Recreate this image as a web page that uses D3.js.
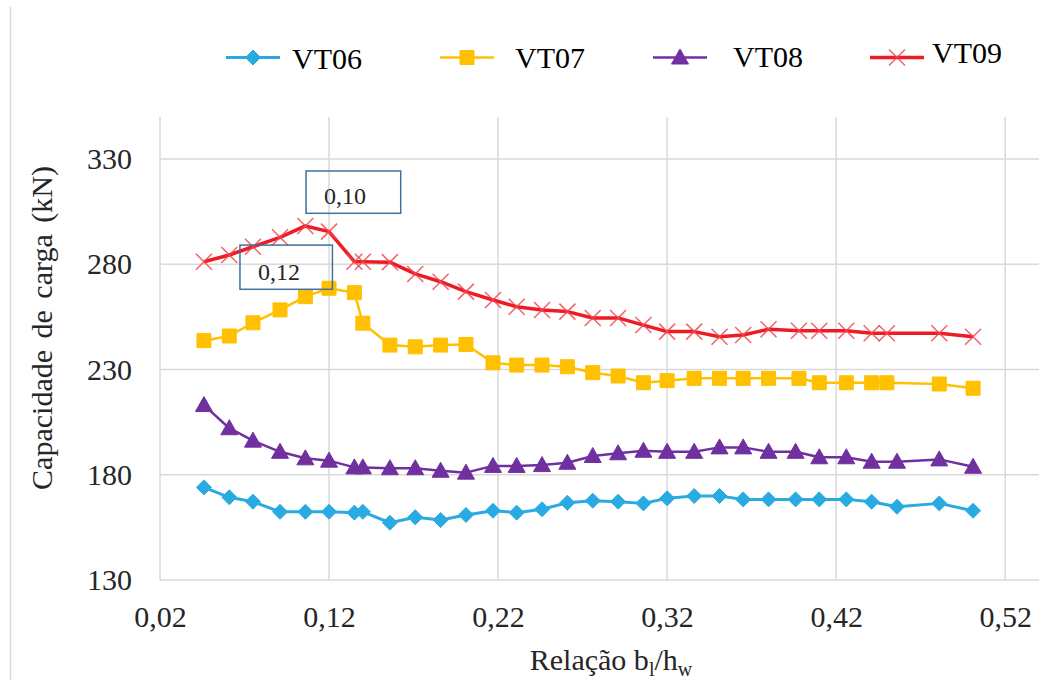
<!DOCTYPE html>
<html lang="pt">
<head>
<meta charset="utf-8">
<script src="https://cdn.jsdelivr.net/npm/d3@7"></script>
<style>
  body { margin: 0; background: #fff; }
  svg text { font-family: "Liberation Serif", serif; }
</style>
</head>
<body>
<div id="chart"></div>
<script>
// relação bl/hw (two slightly different sets of abscissas)
var ratioA = [0.046, 0.061, 0.075, 0.091, 0.106, 0.120, 0.135, 0.140, 0.156, 0.171, 0.186, 0.201, 0.217, 0.231, 0.246, 0.261,
              0.276, 0.291, 0.306, 0.320, 0.336, 0.351, 0.365, 0.380, 0.396, 0.410, 0.426, 0.441, 0.456, 0.481, 0.501];
var ratioB = [0.046, 0.061, 0.075, 0.091, 0.106, 0.120, 0.135, 0.140, 0.156, 0.171, 0.186, 0.201, 0.217, 0.231, 0.246, 0.261,
              0.276, 0.291, 0.306, 0.320, 0.336, 0.351, 0.365, 0.380, 0.398, 0.410, 0.426, 0.441, 0.450, 0.481, 0.501];

// capacidade de carga (kN)
var vt06 = [174.0, 169.3, 167.2, 162.4, 162.4, 162.4, 162.0, 162.4, 157.2, 159.8, 158.5, 160.9, 162.9, 162.0, 163.6, 166.7,
            167.7, 167.2, 166.4, 168.8, 169.9, 169.9, 168.3, 168.3, 168.3, 168.3, 168.3, 167.2, 164.8, 166.4, 162.9];
var vt07 = [243.7, 245.9, 252.2, 258.3, 264.6, 268.6, 266.5, 252.0, 241.6, 240.8, 241.6, 241.9, 233.2, 232.1, 232.1, 231.3,
            228.5, 226.9, 223.7, 224.7, 225.8, 225.8, 225.8, 225.8, 225.8, 223.7, 223.7, 223.7, 223.7, 223.1, 221.1];
var vt08 = [213.1, 202.1, 196.2, 190.9, 187.8, 186.7, 183.5, 183.5, 183.1, 183.1, 181.9, 181.0, 184.2, 184.2, 184.6, 185.7,
            188.9, 190.2, 191.4, 190.9, 190.9, 193.0, 193.0, 190.9, 190.9, 188.3, 188.3, 186.2, 186.2, 187.3, 183.8];
var vt09 = [281.2, 284.4, 288.3, 292.8, 298.2, 295.5, 281.2, 281.2, 281.0, 275.4, 271.7, 267.0, 263.0, 259.8, 258.3, 257.5,
            254.5, 254.5, 251.1, 248.0, 248.0, 245.6, 246.4, 249.1, 248.4, 248.4, 248.4, 247.2, 247.2, 247.2, 245.6];

var seriesNames = ["VT06", "VT07", "VT08", "VT09"];
var xTicks = [0.02, 0.12, 0.22, 0.32, 0.42, 0.52];
var yTicks = [130, 180, 230, 280, 330];

// text boxes (data units)
var notes = [
  {label: "0,10", x0: 0.1064, x1: 0.1624, y0: 324.3, y1: 304.2},
  {label: "0,12", x0: 0.0673, x1: 0.1220, y0: 289.1, y1: 268.1}
];

var W = 1041, H = 680;
var FONT = "Liberation Serif";
var svg = d3.select("#chart").append("svg")
    .attr("width", W)
    .attr("height", H);

// outer chart border (only left edge visible)
svg.append("line")
    .attr("x1", 10.5).attr("x2", 10.5)
    .attr("y1", 7).attr("y2", H)
    .attr("stroke", "#d9d9d9").attr("stroke-width", 1.5);

var x = d3.scaleLinear().domain([0.02, 0.54]).range([160, 1039]);
var y = d3.scaleLinear().domain([130, 350]).range([580, 116.9]);

var fmt = function(d) { return d3.format(".2f")(d).replace(".", ","); };

// gridlines
svg.append("g").selectAll("line")
  .data(yTicks)
  .enter().append("line")
    .attr("x1", x(0.02)).attr("x2", x(0.54))
    .attr("y1", function(d) { return y(d); })
    .attr("y2", function(d) { return y(d); })
    .attr("stroke", "#d9d9d9").attr("stroke-width", 1.5);

svg.append("g").selectAll("line")
  .data(xTicks)
  .enter().append("line")
    .attr("x1", function(d) { return x(d); })
    .attr("x2", function(d) { return x(d); })
    .attr("y1", y(350)).attr("y2", y(130))
    .attr("stroke", "#d9d9d9").attr("stroke-width", 1.5);

// axes
var xAxis = svg.append("g")
    .attr("transform", "translate(0," + y(130) + ")")
    .call(d3.axisBottom(x).tickValues(xTicks).tickSize(0).tickPadding(26).tickFormat(fmt));
var yAxis = svg.append("g")
    .attr("transform", "translate(" + x(0.02) + ",0)")
    .call(d3.axisLeft(y).tickValues(yTicks).tickSize(0).tickPadding(28));
[xAxis, yAxis].forEach(function(a) {
  a.attr("font-family", FONT);
  a.select(".domain").remove();
  a.selectAll("text")
    .attr("font-family", FONT)
    .attr("font-size", 30)
    .attr("fill", "#262626");
});

// axis titles
svg.append("text")
    .attr("transform", "translate(52," + 328 + ") rotate(-90)")
    .attr("text-anchor", "middle")
    .attr("font-family", FONT)
    .attr("font-size", 30)
    .attr("word-spacing", 4)
    .attr("fill", "#262626")
    .text("Capacidade de carga (kN)");

var xt = svg.append("text")
    .attr("x", 611).attr("y", 670)
    .attr("text-anchor", "middle")
    .attr("font-family", FONT)
    .attr("font-size", 30)
    .attr("fill", "#262626");
xt.append("tspan").text("Relação  b");
xt.append("tspan").attr("font-size", 20).attr("dy", 6).text("l");
xt.append("tspan").attr("dy", -6).text("/h");
xt.append("tspan").attr("font-size", 20).attr("dy", 6).text("w");

// markers
var markers = {
  diamond: "M0,-7.5L7.5,0L0,7.5L-7.5,0Z",
  square: "M-7,-7L7,-7L7,7L-7,7Z",
  triangle: "M0,-8.5L8.5,6.5L-8.5,6.5Z",
  cross: "M-8,-8L8,8M-8,8L8,-8"
};

var series = [
  {name: seriesNames[0], xs: ratioA, ys: vt06, color: "#29abe2", width: 3, marker: "diamond"},
  {name: seriesNames[1], xs: ratioB, ys: vt07, color: "#ffc000", width: 2.5, marker: "square"},
  {name: seriesNames[2], xs: ratioA, ys: vt08, color: "#7030a0", width: 2.5, marker: "triangle"},
  {name: seriesNames[3], xs: ratioB, ys: vt09, color: "#ed1c24", width: 3.5, marker: "cross"}
];

var line = d3.line()
    .x(function(d) { return x(d[0]); })
    .y(function(d) { return y(d[1]); });

function drawMarker(sel, s) {
  if (s.marker == "cross") {
    sel.attr("d", markers.cross)
      .attr("fill", "none")
      .attr("stroke", "#f2474e")
      .attr("stroke-width", 1.5)
      .attr("stroke-opacity", 0.85);
  } else {
    sel.attr("d", markers[s.marker])
      .attr("fill", s.color)
      .attr("stroke", s.color)
      .attr("stroke-width", 1);
  }
}

series.forEach(function(s) {
  var pts = d3.zip(s.xs, s.ys);
  var g = svg.append("g");
  g.append("path")
    .datum(pts)
    .attr("d", line)
    .attr("fill", "none")
    .attr("stroke", s.color)
    .attr("stroke-width", s.width)
    .attr("stroke-linejoin", "round");
  g.selectAll("path.mk")
    .data(pts)
    .enter().append("path")
      .attr("class", "mk")
      .attr("transform", function(d) { return "translate(" + x(d[0]) + "," + y(d[1]) + ")"; })
      .call(drawMarker, s);
});

// annotation boxes
notes.forEach(function(n) {
  svg.append("rect")
    .attr("x", x(n.x0)).attr("y", y(n.y0))
    .attr("width", x(n.x1) - x(n.x0))
    .attr("height", y(n.y1) - y(n.y0))
    .attr("fill", "none")
    .attr("stroke", "#41719c")
    .attr("stroke-width", 1.5);
  svg.append("text")
    .attr("x", x(n.x0) + 18)
    .attr("y", y(n.y1) - 9)
    .attr("font-family", FONT)
    .attr("font-size", 24)
    .attr("fill", "#262626")
    .text(n.label);
});

// legend
var legX = [226, 440, 653, 870];
var legTextX = [292, 515, 733, 932];
var legTextY = [69, 68, 67, 63];
series.forEach(function(s, i) {
  var g = svg.append("g");
  g.append("line")
    .attr("x1", legX[i]).attr("x2", legX[i] + 54)
    .attr("y1", 57.5).attr("y2", 57.5)
    .attr("stroke", s.color)
    .attr("stroke-width", s.width);
  g.append("path")
    .attr("transform", "translate(" + (legX[i] + 27) + ",57.5)")
    .call(drawMarker, s);
  g.append("text")
    .attr("x", legTextX[i]).attr("y", legTextY[i])
    .attr("font-family", FONT)
    .attr("font-size", 30)
    .attr("fill", "#000")
    .text(s.name);
});
</script>
</body>
</html>
